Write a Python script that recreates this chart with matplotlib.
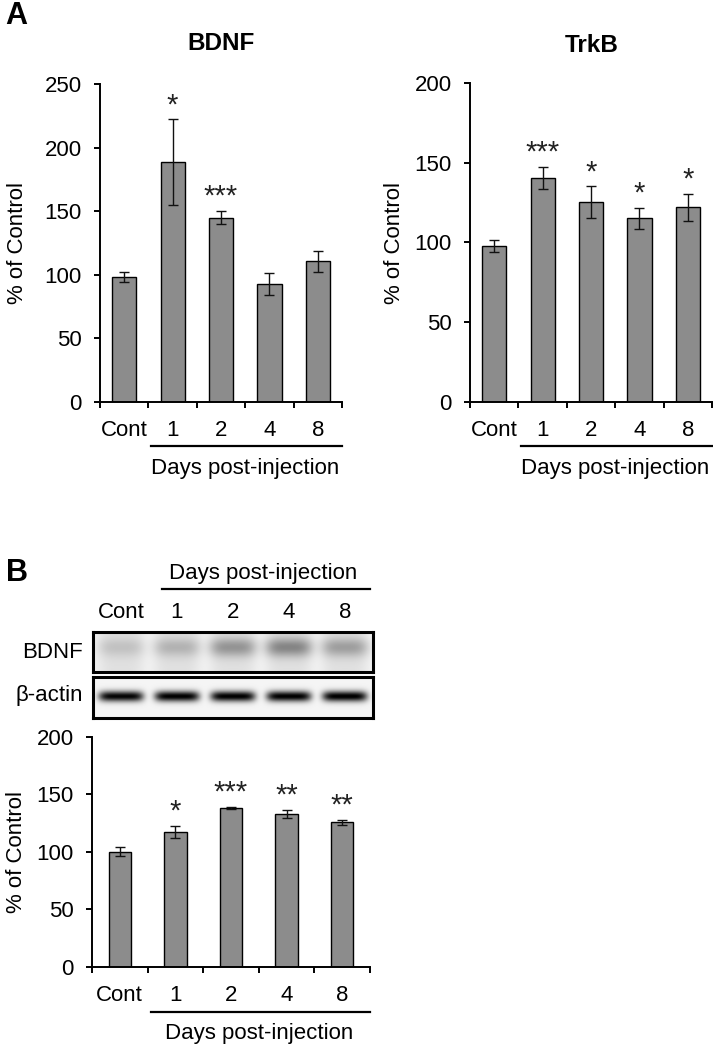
import numpy as np
import matplotlib
matplotlib.use("Agg")
import matplotlib.pyplot as plt

plt.rcParams['font.family'] = ['Liberation Sans', 'DejaVu Sans']

# data
groups = ['Cont', '1', '2', '4', '8']

bdnf_mean = [98, 188.5, 145, 92.7, 110.6]
bdnf_err = [4, 33.6, 5.4, 8.7, 8.5]
bdnf_stars = ['', '*', '***', '', '']

trkb_mean = [97.8, 140.7, 125.2, 115.2, 122.1]
trkb_err = [3.5, 7, 10, 6.6, 8.3]
trkb_stars = ['', '***', '*', '*', '*']

wb_mean = [100, 117.4, 138, 132.8, 125.5]
wb_err = [3.8, 5.2, 1.2, 3.2, 2.3]
wb_stars = ['', '*', '***', '**', '**']

# blot band darkness (0 = none, 1 = black)
blot_bdnf = [0.12, 0.18, 0.30, 0.36, 0.26]
blot_actin = [0.95, 0.97, 0.97, 0.97, 0.98]

W, H = 713, 1049
fig = plt.figure(figsize=(W / 100, H / 100), dpi=100)


def box(x0, y0, x1, y1):
    return [x0 / W, 1 - y1 / H, (x1 - x0) / W, (y1 - y0) / H]


def ftext(x, y, s, **kw):
    fig.text(x / W, 1 - y / H, s, **kw)


def bar_panel(ax, mean, err, stars, ymax, ystep, width):
    x = np.arange(len(groups))
    ax.bar(x, mean, width=width, color='#8c8c8c', edgecolor='black', linewidth=1.0, zorder=2)
    ax.errorbar(x, mean, yerr=err, fmt='none', ecolor='#111111', elinewidth=1.0,
                capsize=3.5, capthick=1.0, zorder=3)
    for i in range(len(groups)):
        if stars[i]:
            ax.annotate(stars[i], (x[i], mean[i] + err[i]), xytext=(0, 4.5),
                        textcoords='offset points', ha='center', va='baseline',
                        fontsize=21, color='#222222')
    ax.set_xlim(-0.5, len(groups) - 0.5)
    ax.set_ylim(0, ymax)
    ax.set_yticks(np.arange(0, ymax + 1, ystep))
    ax.set_xticks(x)
    ax.set_xticklabels(groups)
    ax.set_xticks(np.arange(-0.5, len(groups), 1), minor=True)
    ax.tick_params(axis='x', which='major', length=0, pad=13, labelsize=16)
    ax.tick_params(axis='x', which='minor', length=4.5, width=1.4, direction='out')
    ax.tick_params(axis='y', length=4.5, width=1.4, pad=8.5, labelsize=16)
    for s in ['top', 'right']:
        ax.spines[s].set_visible(False)
    for s in ['left', 'bottom']:
        ax.spines[s].set_linewidth(1.4)
    ax.patch.set_alpha(0)


def days_line(ax, y_line, y_text):
    tr = ax.get_xaxis_transform()
    ax.plot([0.56, 4.5], [y_line, y_line], color='black', lw=1.6, transform=tr, clip_on=False)
    ax.text(2.5, y_text, 'Days post-injection', transform=tr, ha='center', va='center',
            fontsize=16)


# ---- A: BDNF
ax1 = fig.add_axes(box(100, 84, 342, 402))
bar_panel(ax1, bdnf_mean, bdnf_err, bdnf_stars, 250, 50, 0.5)
days_line(ax1, -0.138, -0.21)
ftext(221, 43, 'BDNF', ha='center', va='center', fontsize=17.5, fontweight='bold')
ftext(18, 243, '% of Control', ha='center', va='center', rotation=90, fontsize=16)

# ---- A: TrkB
ax2 = fig.add_axes(box(470, 83.3, 712, 401.7))
bar_panel(ax2, trkb_mean, trkb_err, trkb_stars, 200, 50, 0.5)
days_line(ax2, -0.138, -0.21)
ftext(592, 45, 'TrkB', ha='center', va='center', fontsize=17.5, fontweight='bold')
ftext(395, 243, '% of Control', ha='center', va='center', rotation=90, fontsize=16)

ftext(16, 16, 'A', ha='center', va='center', fontsize=22, fontweight='bold')

# ---- B: blot
ftext(17, 573, 'B', ha='center', va='center', fontsize=22, fontweight='bold')

xg = np.linspace(-0.5, 4.5, 560)
yg = np.linspace(0, 1, 82)
X, Y = np.meshgrid(xg, yg)


def blot_image(levels, kind):
    dark = np.zeros_like(X)
    for i, lv in enumerate(levels):
        dx = X - i
        if kind == 'actin':
            dark += lv * np.exp(-(np.abs(dx) / 0.40) ** 6) * np.exp(-((Y - 0.53) / 0.13) ** 2)
        else:
            lane = np.exp(-(np.abs(dx) / 0.42) ** 4)
            dark += lane * (0.08 + lv * np.exp(-((Y - 0.62) / 0.24) ** 2))
    dark += 0.04
    return 1 - np.clip(dark, 0, 1)


bax1 = fig.add_axes(box(93, 632, 373, 672))
bax1.imshow(blot_image(blot_bdnf, 'bdnf'), cmap='gray', vmin=0, vmax=1, aspect='auto',
            extent=(-0.5, 4.5, 0, 1), origin='lower', interpolation='bilinear')
bax2 = fig.add_axes(box(93, 677, 373, 718))
bax2.imshow(blot_image(blot_actin, 'actin'), cmap='gray', vmin=0, vmax=1, aspect='auto',
            extent=(-0.5, 4.5, 0, 1), origin='lower', interpolation='bilinear')

for i, g in enumerate(groups):
    bax1.text(i, 1.5, g, ha='center', va='center', fontsize=16)
bax1.plot([0.73, 4.45], [2.07, 2.07], color='black', lw=1.6, clip_on=False)
bax1.text(2.53, 2.45, 'Days post-injection', ha='center', va='center', fontsize=16)

for bx in [bax1, bax2]:
    bx.set_xlim(-0.5, 4.5)
    bx.set_ylim(0, 1)
    bx.set_xticks([])
    bx.set_yticks([])
    for s in bx.spines.values():
        s.set_linewidth(2.2)

ftext(83, 652, 'BDNF', ha='right', va='center', fontsize=16)
ftext(83, 696, '\u03b2-actin', ha='right', va='center', fontsize=16)

# ---- B: quantification
ax3 = fig.add_axes(box(92, 736.7, 370, 966.7))
bar_panel(ax3, wb_mean, wb_err, wb_stars, 200, 50, 0.4)
days_line(ax3, -0.197, -0.29)
ftext(17, 852, '% of Control', ha='center', va='center', rotation=90, fontsize=16)

fig.savefig('out.png', dpi=100)
